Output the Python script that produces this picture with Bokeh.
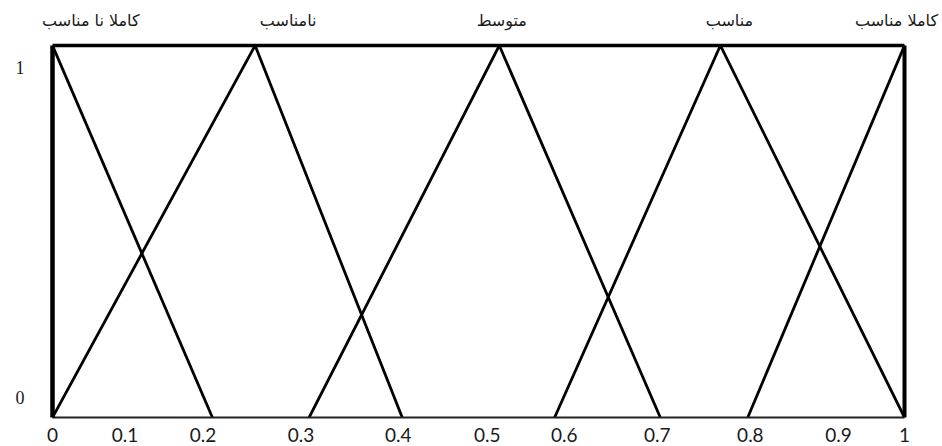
from bokeh.plotting import figure
from bokeh.models import FixedTicker, LinearAxis, Range1d
from bokeh.embed import file_html
from bokeh.resources import INLINE

# Fuzzy sets (Persian labels) and their membership functions.
# x is read as the fraction of the horizontal axis, y is membership degree.
set_names = ["کاملا نا مناسب", "نامناسب", "متوسط", "مناسب", "کاملا مناسب"]
set_label_pos = [0.0450, 0.2766, 0.5273, 0.7945, 0.9906]

mf_x = [
    [0.0, 0.1877],
    [0.0, 0.2378, 0.4105],
    [0.3012, 0.5244, 0.7134],
    [0.5893, 0.7839, 1.0],
    [0.8160, 1.0],
]
mf_y = [
    [1, 0],
    [0, 1, 0],
    [0, 1, 0],
    [0, 1, 0],
    [0, 1],
]

# Tick labels as they are placed in the picture
x_tick_labels = ["0", "0.1", "0.2", "0.3", "0.4", "0.5", "0.6", "0.7", "0.8", "0.9", "1"]
x_tick_pos = [0.0, 0.0851, 0.1767, 0.2918, 0.4057, 0.5103, 0.6007, 0.7099, 0.8191, 0.9225, 1.0]
y_tick_labels = ["0", "1"]
y_tick_pos = [0.0526, 0.942]

p = figure(
    width=942, height=446,
    x_range=Range1d(0, 1), y_range=Range1d(0, 1),
    output_backend="svg", toolbar_location=None,
    min_border_left=52, min_border_right=38, min_border_top=45, min_border_bottom=29,
    background_fill_color="white", border_fill_color="white",
)
p.outline_line_color = None
p.xgrid.visible = False
p.ygrid.visible = False

# membership lines
p.multi_line(xs=mf_x, ys=mf_y, line_color="black", line_width=2.8)

# bottom axis (thin frame line + tick labels)
xa = p.xaxis[0]
xa.ticker = FixedTicker(ticks=x_tick_pos)
xa.major_label_overrides = {v: t for v, t in zip(x_tick_pos, x_tick_labels)}
xa.axis_line_color = "#222222"
xa.axis_line_width = 2
xa.major_tick_line_color = None
xa.minor_tick_line_color = None
xa.major_label_standoff = 4
xa.major_label_text_font = "Lato"
xa.major_label_text_font_size = "19px"
xa.major_label_text_color = "#1a1a1a"

# left axis (thick frame line + labels)
ya = p.yaxis[0]
ya.ticker = FixedTicker(ticks=y_tick_pos)
ya.major_label_overrides = {v: t for v, t in zip(y_tick_pos, y_tick_labels)}
ya.axis_line_color = "black"
ya.axis_line_width = 4.5
ya.major_tick_line_color = None
ya.minor_tick_line_color = None
ya.major_label_standoff = 22
ya.major_label_text_font = "Liberation Serif"
ya.major_label_text_font_size = "18px"
ya.major_label_text_color = "#1a1a1a"

# top axis with the fuzzy set names
ta = LinearAxis(
    ticker=FixedTicker(ticks=set_label_pos),
    major_label_overrides={v: t for v, t in zip(set_label_pos, set_names)},
    axis_line_color="black", axis_line_width=3.5,
    major_tick_line_color=None, minor_tick_line_color=None,
    major_label_standoff=10,
    major_label_text_font="DejaVu Sans",
    major_label_text_font_size="16px",
    major_label_text_color="#1a1a1a",
)
p.add_layout(ta, "above")

# right frame line
ra = LinearAxis(
    ticker=FixedTicker(ticks=[]),
    axis_line_color="black", axis_line_width=4,
    major_tick_line_color=None, minor_tick_line_color=None,
    major_label_text_font_size="0px",
)
p.add_layout(ra, "right")

open("out.html", "w").write(file_html(p, INLINE))
